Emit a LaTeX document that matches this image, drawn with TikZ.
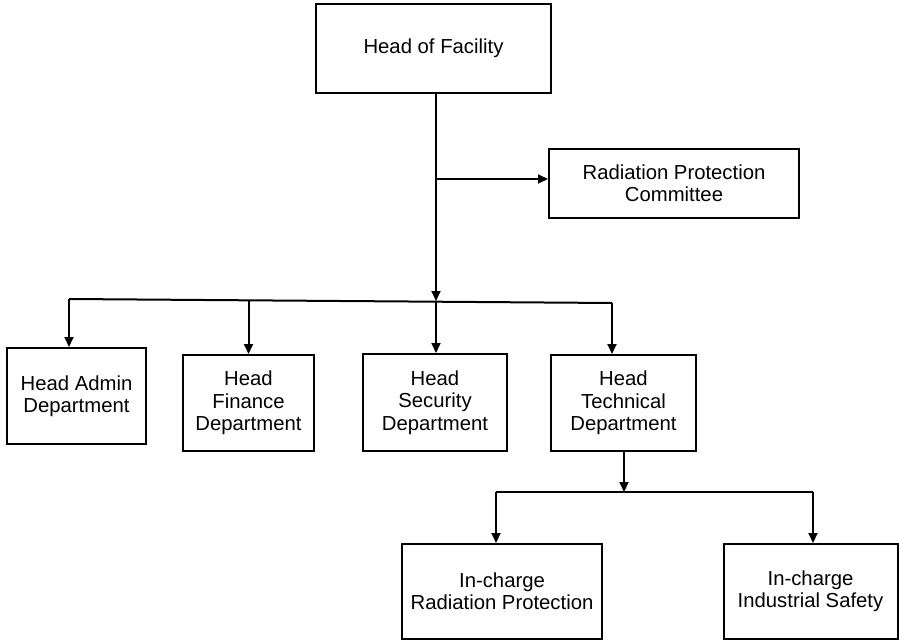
\documentclass[tikz,border=0pt]{standalone}
\usepackage{fontspec}
\setmainfont{Liberation Sans}
\usetikzlibrary{arrows.meta}

\begin{document}
\begin{tikzpicture}[x=1pt,y=-1pt,>={Triangle[length=10pt,width=9pt]},line width=2pt,
	box/.style={draw,line width=2pt,align=center,inner sep=0pt,font=\fontsize{20.3}{22.3}\selectfont}]
	\useasboundingbox (0,0) rectangle (899,644);
	\node[box,minimum width=235,minimum height=89](fac) at (433.5,48.5) {Head of Facility};
	\node[box,minimum width=250,minimum height=69](rpc) at (674,183.5) {Radiation Protection\\Committee};
	\node[box,minimum width=139,minimum height=96](adm) at (76.5,396) {Head Admin\\Department};
	\node[box,minimum width=131,minimum height=96](fin) at (248.5,403) {Head\\Finance\\Department};
	\node[box,minimum width=144,minimum height=97](sec) at (435,402.5) {Head\\Security\\Department};
	\node[box,minimum width=145,minimum height=96](tec) at (623.5,403) {Head\\Technical\\Department};
	\node[box,minimum width=200,minimum height=95](irp) at (502,591.5) {In-charge\\Radiation Protection};
	\node[box,minimum width=174,minimum height=95](iis) at (810.5,591.5) {In-charge\\Industrial Safety};
	\coordinate (bus) at (436,301);
	\coordinate (side) at (436,179);
	\coordinate (busL) at (69,299);
	\coordinate (busR) at (612,303);
	\coordinate (tbus) at (624,492);
	\coordinate (tbusL) at (496,492);
	\coordinate (tbusR) at (813,492);
	\draw[->](fac.south -| bus)--(bus);
	\draw[->](side)--(side -| rpc.west);
	\draw(busL)--(busR);
	\draw[->](busL)--(busL |- adm.north);
	\draw[->](fin.north |- bus)--(fin.north);
	\draw[->](bus)--(bus |- sec.north);
	\draw[->](busR)--(busR |- tec.north);
	\draw[->](tec.south -| tbus)--(tbus);
	\draw(tbusL)--(tbusR);
	\draw[->](tbusL)--(tbusL |- irp.north);
	\draw[->](tbusR)--(tbusR |- iis.north);
\end{tikzpicture}
\end{document}
